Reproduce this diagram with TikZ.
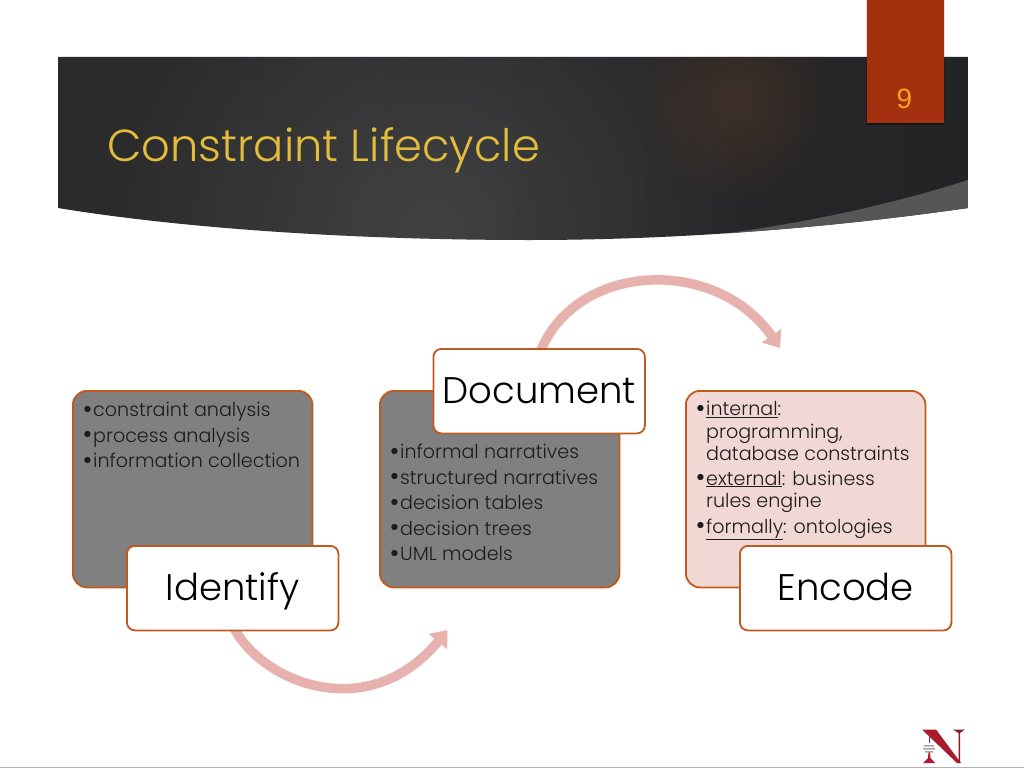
\documentclass[tikz,border=0pt]{standalone}
\usepackage{fontspec}
\setmainfont{Poppins}[UprightFont=* Light]
\newfontfamily\numfont{Liberation Sans}
\usetikzlibrary{arrows.meta,fadings}
\definecolor{hdrA}{HTML}{2B2B2C}
\definecolor{hdrB}{HTML}{3E3E3E}
\definecolor{hdrC}{HTML}{232425}
\definecolor{hdrBand}{HTML}{565656}
\definecolor{glow}{HTML}{5E3C2A}
\definecolor{tabRed}{HTML}{A5300F}
\definecolor{numOrange}{HTML}{F5A31E}
\definecolor{titleGold}{HTML}{E3BC3C}
\definecolor{edgeOr}{HTML}{C2591F}
\definecolor{grayFill}{HTML}{808080}
\definecolor{pinkFill}{HTML}{F2D8D4}
\definecolor{arcPink}{HTML}{E7B2AD}
\definecolor{logoRed}{HTML}{A81C2E}
\definecolor{inkDark}{HTML}{1C1C1C}
\tikzfading[name=glowfade,inner color=transparent!55,outer color=transparent!100]
\tikzfading[name=liftfade,inner color=transparent!88,outer color=transparent!100]
\tikzset{
  bodybox/.style={draw=edgeOr,line width=1.8pt,rounded corners=14pt,minimum width=239.5pt,minimum height=196.5pt,inner sep=0pt,anchor=north west},
  labelbox/.style={draw=edgeOr,line width=1.8pt,fill=white,rounded corners=8pt,minimum width=211.5pt,minimum height=84.5pt,inner sep=0pt,anchor=north west,text=black,text height=30pt,text depth=5pt,font=\fontsize{37}{44}\selectfont},
  listtext/.style={anchor=north west,align=left,inner sep=0pt,text=inkDark,font=\fontsize{19.1}{25.5}\selectfont},
  listtight/.style={anchor=north west,align=left,inner sep=0pt,text=inkDark,font=\fontsize{19.1}{22.5}\selectfont},
  arcarrow/.style={draw=arcPink,line width=9.5pt,-{Triangle[length=15pt,width=23pt]}},
}
\newcommand{\bul}{\makebox[14pt][l]{\hspace{3.4pt}\smash{\raisebox{-1.6pt}{\fontsize{27}{27}\selectfont\textbullet}}}}
\newcommand{\ind}{\hspace*{14pt}}
\begin{document}
\begin{tikzpicture}[x=1pt,y=-1pt]
\useasboundingbox (0,0) rectangle (1024,768);
\fill[white] (0,0) rectangle (1024,768);
% header
\begin{scope}
\clip (58,57) -- (968,57) -- (968,208) .. controls (800,232) and (650,240) .. (530,240) .. controls (350,240) and (180,228) .. (58,208) -- cycle;
\shade[left color=hdrA,middle color=hdrB,right color=hdrC] (58,57) rectangle (968,240);
\fill[white,path fading=liftfade] (430,230) circle (330);
\fill[glow,path fading=glowfade] (735,100) circle (105);
\fill[hdrBand] (968,180) .. controls (880,208) and (790,226) .. (690,238) -- (690,245) -- (968,245) -- cycle;
\end{scope}
% tab
\fill[black,opacity=.12] (866,0) rectangle (945,124.5);
\fill[black,opacity=.3] (867,123) rectangle (944,125);
\fill[tabRed] (867,0) rectangle (944,123);
\node[font=\numfont\fontsize{28}{30}\selectfont,text=numOrange,inner sep=0pt] (num) at (904.5,99) {9};
\node[anchor=base west,inner sep=0pt,text=titleGold,font=\fontsize{44.8}{50}\selectfont] (title) at (107,161) {Constraint Lifecycle};
% arcs
\coordinate (a1s) at (234,628);
\coordinate (a1e) at (447.5,630);
\coordinate (a2s) at (541,350);
\coordinate (a2e) at (780,348);
\draw[arcarrow] (a1s) .. controls (262,682) and (368,726) .. (a1e);
\draw[arcarrow] (a2s) .. controls (578,262) and (716,256) .. (a2e);
% bodies
\node[bodybox,fill=grayFill] (bA) at (72,390) {};
\node[bodybox,fill=grayFill] (bB) at (379,390) {};
\node[bodybox,fill=pinkFill] (bC) at (685,390) {};
\node[listtext] (lA) at (79,402) {\bul constraint analysis\\\bul process analysis\\\bul information collection};
\node[listtext] (lB) at (386,444) {\bul informal narratives\\\bul structured narratives\\\bul decision tables\\\bul decision trees\\\bul UML models};
\node[listtight] (lC) at (692,401) {\bul\underline{internal}:\\\ind programming,\\\ind database constraints\\[2pt]\bul\underline{external}: business\\\ind rules engine\\[3pt]\bul\underline{formally}: ontologies};
% labels
\node[labelbox] (Lid) at (126,545) {Identify};
\node[labelbox] (Ldo) at (432.5,348) {Document};
\node[labelbox] (Len) at (739,545) {Encode};
% logo
\fill[logoRed] (922,729.5) -- (936,729.5) -- (961,763) -- (957,763) -- cycle;
\fill[logoRed!85!black] (953,729.5) -- (965,729.5) -- (960,733) -- (960,763) -- (958.5,763) -- (958.5,733) -- cycle;
\fill[logoRed] (928.5,732) -- (930,732) -- (930,743) -- (928.5,743) -- cycle;
\fill[logoRed] (923,763) -- (928,758) -- (928.5,752) -- (930,752) -- (930.5,758) -- (935,763) -- cycle;
\fill[gray!70] (924,745) rectangle (934,746.5) (923,748) rectangle (935,749.5) (925,751) rectangle (933,752.5);
% bottom rule
\fill[gray!60] (0,766.5) rectangle (1024,768);
\end{tikzpicture}
\end{document}
